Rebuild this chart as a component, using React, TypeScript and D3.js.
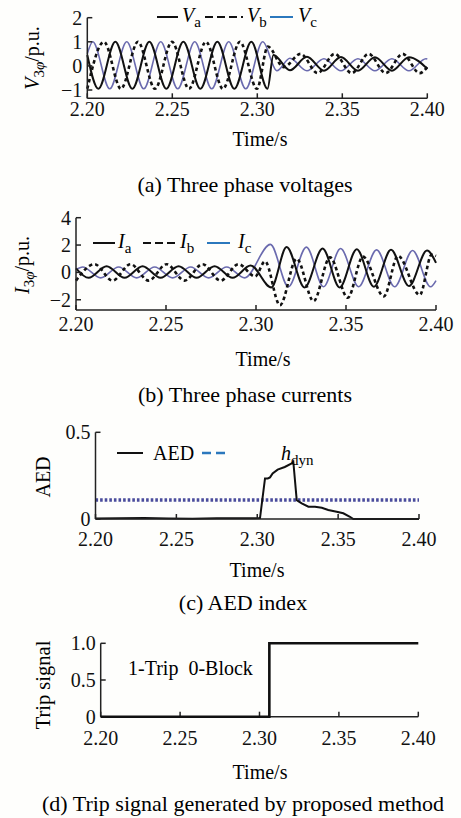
import * as d3 from "d3";

const FONT = "'Liberation Serif', 'Times New Roman', Times, serif";
const BLUE_LINE = "#6a6aae";
const BLUE_KEY = "#2b78bd";
const DOT_BLUE = "#4a4c9c";

const timeTicks = [2.2, 2.25, 2.3, 2.35, 2.4];

// (a) three phase voltages, peaks / troughs [time s, p.u.]
const voltageA: [number, number][] = [
  [2.2, 0.45], [2.2065, -0.95], [2.2165, 1], [2.2265, -0.95], [2.2365, 1], [2.2465, -0.95],
  [2.2565, 1], [2.2665, -0.95], [2.2765, 1], [2.2865, -0.95], [2.2965, 1], [2.306, -0.95],
  [2.3095, 0.45], [2.3192, -0.18], [2.3292, 0.38], [2.3392, -0.2], [2.3492, 0.37], [2.3592, -0.2],
  [2.3692, 0.36], [2.3792, -0.2], [2.3892, 0.36], [2.4, -0.12],
];
const voltageB: [number, number][] = [
  [2.2, -0.95], [2.2098, 1], [2.2198, -0.95], [2.2298, 1], [2.2398, -0.95], [2.2498, 1],
  [2.2598, -0.95], [2.2698, 1], [2.2798, -0.95], [2.2898, 1], [2.2998, -0.95], [2.3062, 0.8],
  [2.3155, -0.05], [2.3255, 0.5], [2.3355, -0.3], [2.3455, 0.5], [2.3555, -0.3], [2.3655, 0.5],
  [2.3755, -0.3], [2.3855, 0.5], [2.3955, -0.3], [2.4, -0.05],
];
const voltageC: [number, number][] = [
  [2.2, 0.5], [2.2032, 1], [2.2132, -0.95], [2.2232, 1], [2.2332, -0.95], [2.2432, 1],
  [2.2532, -0.95], [2.2632, 1], [2.2732, -0.95], [2.2832, 1], [2.2932, -0.95], [2.3032, 1],
  [2.3115, -0.2], [2.3192, 0.32], [2.3292, -0.2], [2.3392, 0.3], [2.3492, -0.2], [2.3592, 0.3],
  [2.3692, -0.2], [2.3792, 0.3], [2.3892, -0.2], [2.3992, 0.3], [2.4, 0.29],
];

// (b) three phase currents [time s, p.u.]
const currentA: [number, number][] = [
  [2.2, 0.3], [2.207, -0.4], [2.217, 0.45], [2.227, -0.4], [2.237, 0.45], [2.247, -0.4],
  [2.257, 0.45], [2.267, -0.4], [2.277, 0.45], [2.287, -0.4], [2.297, 0.5], [2.3085, -1.1],
  [2.317, 1.85], [2.327, -1.1], [2.337, 1.75], [2.3465, -1.1], [2.356, 1.7], [2.3655, -1.05],
  [2.375, 1.65], [2.385, -1.0], [2.395, 1.6], [2.4, 0.7],
];
const currentB: [number, number][] = [
  [2.2, -0.6], [2.2103, 0.6], [2.2203, -0.6], [2.2303, 0.6], [2.2403, -0.6], [2.2503, 0.6],
  [2.2603, -0.6], [2.2703, 0.6], [2.2803, -0.6], [2.2903, 0.6], [2.2995, -0.3], [2.305, 0.8],
  [2.3133, -2.4], [2.3226, 1.0], [2.332, -2.1], [2.3411, 1.1], [2.351, -1.85], [2.3594, 1.15],
  [2.371, -1.75], [2.3789, 1.2], [2.391, -1.65], [2.3976, 1.3], [2.4, 1.2],
];
const currentC: [number, number][] = [
  [2.2, 0.2], [2.2037, 0.4], [2.2137, -0.4], [2.2237, 0.4], [2.2337, -0.4], [2.2437, 0.4],
  [2.2537, -0.4], [2.2637, 0.4], [2.2737, -0.4], [2.2837, 0.4], [2.2937, -0.4], [2.308, 2.05],
  [2.318, -1.05], [2.328, 1.85], [2.3375, -1.05], [2.347, 1.75], [2.357, -1.05], [2.367, 1.65],
  [2.377, -1.05], [2.387, 1.6], [2.397, -1.05], [2.4, -0.6],
];

// (c) AED index
const aedIndex: [number, number][] = [
  [2.2, 0.003], [2.215, 0.004], [2.23, 0.006], [2.245, 0.003], [2.26, 0.002], [2.275, 0.005],
  [2.29, 0.004], [2.3017, 0.005], [2.3048, 0.234], [2.3065, 0.234], [2.3079, 0.24],
  [2.3095, 0.263], [2.3126, 0.285], [2.317, 0.3], [2.3213, 0.32], [2.3223, 0.33],
  [2.3244, 0.109], [2.3258, 0.1], [2.3275, 0.09], [2.3316, 0.071], [2.3357, 0.071],
  [2.3399, 0.065], [2.3439, 0.052], [2.3491, 0.042], [2.3532, 0.033], [2.3573, 0.013],
  [2.3594, 0], [2.38, 0], [2.4, 0],
];
const aedThreshold = 0.11;

// (d) trip signal
const tripSignal: [number, number][] = [[2.2, 0], [2.3062, 1], [2.4, 1]];

type Pt = [number, number];

function Axes({ x, y, yTicks, yFmt, labelY }: any) {
  const [x0, x1] = x.range();
  const yb = y.range()[0];
  const yTop = y(y.domain()[1]);
  return (
    <g fontFamily={FONT} fontSize={20} fill="#111">
      <line x1={x0} x2={x0} y1={yTop} y2={yb} stroke="#222" strokeWidth={1.5} />
      <line x1={x0} x2={x1} y1={yb} y2={yb} stroke="#222" strokeWidth={1.5} />
      {timeTicks.map((t) => (
        <g key={t}>
          <line x1={x(t)} x2={x(t)} y1={yb} y2={yb - 5} stroke="#222" strokeWidth={1.5} />
          <text x={x(t)} y={labelY} textAnchor="middle">{d3.format(".2f")(t)}</text>
        </g>
      ))}
      {yTicks.map((v: number) => (
        <g key={v}>
          <line x1={x0} x2={x0 + 5} y1={y(v)} y2={y(v)} stroke="#222" strokeWidth={1.5} />
          <text x={x0 - 5} y={y(v)} dy="0.35em" textAnchor="end">{yFmt(v)}</text>
        </g>
      ))}
    </g>
  );
}

const minus = (v: number) => (v < 0 ? "\u2212" + Math.abs(v) : String(v));

function Wave({ data, x, y, color, width, dash }: any) {
  const line = d3.line<Pt>().x((d) => x(d[0])).y((d) => y(d[1])).curve(d3.curveMonotoneX);
  return <path d={line(data) || ""} fill="none" stroke={color} strokeWidth={width} strokeDasharray={dash} />;
}

function Sub({ main, sub }: any) {
  return (
    <>
      <tspan fontStyle="italic">{main}</tspan>
      <tspan fontSize={15} dy={5}>{sub}</tspan>
    </>
  );
}

export default function App() {
  const xa = d3.scaleLinear().domain([2.2, 2.4]).range([87.3, 427.3]);
  const ya = d3.scaleLinear().domain([-1.344, 2]).range([98.3, 17.7]);
  const xb = d3.scaleLinear().domain([2.2, 2.4]).range([76, 436]);
  const yb = d3.scaleLinear().domain([-2.75, 4]).range([310, 217.7]);
  const xc = d3.scaleLinear().domain([2.2, 2.4]).range([95.5, 419]);
  const yc = d3.scaleLinear().domain([0, 0.5]).range([519, 432.3]);
  const xd = d3.scaleLinear().domain([2.2, 2.4]).range([100.7, 418.3]);
  const yd = d3.scaleLinear().domain([0, 1]).range([716.7, 643.3]);

  const step = d3.line<Pt>().x((d) => xd(d[0])).y((d) => yd(d[1])).curve(d3.curveStepAfter);
  const aedLine = d3.line<Pt>().x((d) => xc(d[0])).y((d) => yc(d[1]));

  return (
    <svg width={461} height={818} style={{ position: "absolute", left: 0, top: 0 }} fontFamily={FONT}>
      <rect width={461} height={818} fill="#fefefc" />

      {/* (a) */}
      <Wave data={voltageC} x={xa} y={ya} color={BLUE_LINE} width={1.6} />
      <Wave data={voltageA} x={xa} y={ya} color="#111" width={2} />
      <Wave data={voltageB} x={xa} y={ya} color="#111" width={2.6} dash="3.5,3" />
      <Axes x={xa} y={ya} yTicks={[2, 1, 0, -1]} yFmt={minus} labelY={116} />
      <g fontSize={20}>
        <line x1={157} x2={178} y1={17} y2={17} stroke="#111" strokeWidth={2} />
        <text x={182} y={22}><Sub main="V" sub="a" /></text>
        <line x1={205} x2={243} y1={17} y2={17} stroke="#111" strokeWidth={2} strokeDasharray="8,4" />
        <text x={247} y={22}><Sub main="V" sub="b" /></text>
        <line x1={270} x2={293} y1={17} y2={17} stroke={BLUE_KEY} strokeWidth={2} />
        <text x={298} y={22}><Sub main="V" sub="c" /></text>
      </g>
      <text transform="translate(32,58) rotate(-90)" textAnchor="middle" dy="0.35em" fontSize={20}>
        <tspan fontStyle="italic">V</tspan>
        <tspan fontSize={15} dy={5}>3<tspan fontStyle="italic">φ</tspan></tspan>
        <tspan dy={-5}>/p.u.</tspan>
      </text>
      <text x={260} y={146} textAnchor="middle" fontSize={20}>Time/s</text>
      <text x={245} y={192} textAnchor="middle" fontSize={22}>(a) Three phase voltages</text>

      {/* (b) */}
      <Wave data={currentC} x={xb} y={yb} color={BLUE_LINE} width={1.6} />
      <Wave data={currentA} x={xb} y={yb} color="#111" width={2} />
      <Wave data={currentB} x={xb} y={yb} color="#111" width={2.6} dash="3.5,3" />
      <Axes x={xb} y={yb} yTicks={[4, 2, 0, -2]} yFmt={minus} labelY={331} />
      <g fontSize={20}>
        <line x1={93} x2={115} y1={243} y2={243} stroke="#111" strokeWidth={2} />
        <text x={118} y={248}><Sub main="I" sub="a" /></text>
        <line x1={143} x2={175} y1={243} y2={243} stroke="#111" strokeWidth={2} strokeDasharray="8,4" />
        <text x={180} y={248}><Sub main="I" sub="b" /></text>
        <line x1={207} x2={230} y1={243} y2={243} stroke={BLUE_KEY} strokeWidth={2} />
        <text x={238} y={248}><Sub main="I" sub="c" /></text>
      </g>
      <text transform="translate(22,265) rotate(-90)" textAnchor="middle" dy="0.35em" fontSize={20}>
        <tspan fontStyle="italic">I</tspan>
        <tspan fontSize={15} dy={5}>3<tspan fontStyle="italic">φ</tspan></tspan>
        <tspan dy={-5}>/p.u.</tspan>
      </text>
      <text x={263} y={366} textAnchor="middle" fontSize={20}>Time/s</text>
      <text x={245} y={402} textAnchor="middle" fontSize={22}>(b) Three phase currents</text>

      {/* (c) */}
      <line x1={xc(2.2)} x2={xc(2.4)} y1={yc(aedThreshold)} y2={yc(aedThreshold)} stroke={DOT_BLUE} strokeWidth={3.5} strokeDasharray="2.6,2" />
      <path d={aedLine(aedIndex) || ""} fill="none" stroke="#111" strokeWidth={2} />
      <Axes x={xc} y={yc} yTicks={[0.5, 0]} yFmt={(v: number) => String(v)} labelY={546} />
      <line x1={117} x2={143} y1={453} y2={453} stroke="#111" strokeWidth={2} />
      <text x={153} y={460} fontSize={20}>AED</text>
      <line x1={202} x2={228} y1={453} y2={453} stroke={BLUE_KEY} strokeWidth={2.5} strokeDasharray="9,5" />
      <text x={281} y={460} fontSize={20}>
        <tspan fontStyle="italic">h</tspan>
        <tspan fontSize={15} dy={5}>dyn</tspan>
      </text>
      <text transform="translate(43,477) rotate(-90)" textAnchor="middle" dy="0.35em" fontSize={20}>AED</text>
      <text x={257} y={577} textAnchor="middle" fontSize={20}>Time/s</text>
      <text x={243} y={610} textAnchor="middle" fontSize={22}>(c) AED index</text>

      {/* (d) */}
      <Axes x={xd} y={yd} yTicks={[1, 0.5, 0]} yFmt={(v: number) => (v === 0 ? "0" : d3.format(".1f")(v))} labelY={745} />
      <path d={step(tripSignal) || ""} fill="none" stroke="#111" strokeWidth={2.6} />
      <text x={128} y={675} fontSize={20} style={{ whiteSpace: "pre" }}>1-Trip  0-Block</text>
      <text transform="translate(43,685) rotate(-90)" textAnchor="middle" dy="0.35em" fontSize={20.5}>Trip signal</text>
      <text x={260} y={779} textAnchor="middle" fontSize={20}>Time/s</text>
      <text x={243} y={811} textAnchor="middle" fontSize={22}>(d) Trip signal generated by proposed method</text>
    </svg>
  );
}
